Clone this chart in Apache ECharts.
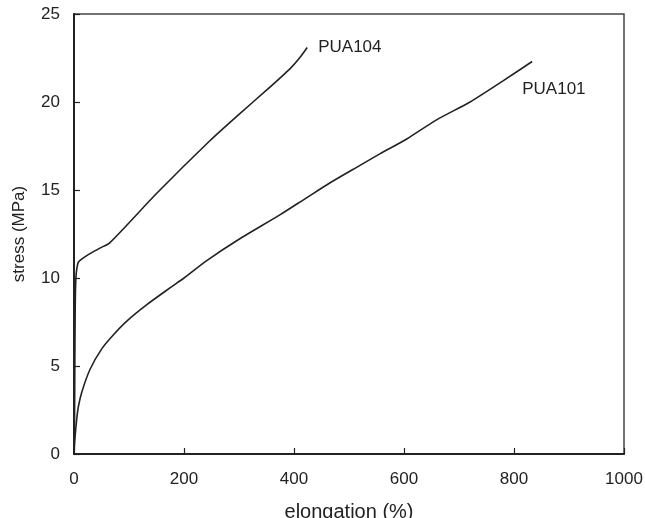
<!DOCTYPE html>
<html>
<head>
<meta charset="utf-8">
<script src="https://cdn.jsdelivr.net/npm/echarts@6/dist/echarts.min.js"></script>
<style>html,body{margin:0;padding:0;background:#fff}#c{width:645px;height:518px}</style>
</head>
<body>
<div id="c"></div>
<script>
var xTicks = [0, 200, 400, 600, 800, 1000];
var yTicks = [0, 5, 10, 15, 20, 25];
var pua104 = [[0,0],[1,2],[1.5,5],[2,7.5],[2.5,9],[3.5,10],[5,10.5],[8,10.9],[15,11.1],[30,11.4],[47,11.7],[65,12.0],[150,14.8],[247,17.8],[300,19.3],[351,20.7],[393,21.9],[410,22.5],[424,23.1]];
var pua101 = [[0,0],[2,1],[5,2],[8,2.7],[14,3.5],[29,4.8],[51,6.0],[71,6.75],[96,7.55],[133,8.5],[175,9.45],[200,10.0],[242,11.0],[300,12.2],[375,13.6],[420,14.5],[465,15.4],[520,16.4],[556,17.05],[605,17.9],[660,19.0],[720,20.0],[780,21.2],[833,22.3]];
var labels = [{name:'PUA104', coord:[444, 23.1]}, {name:'PUA101', coord:[815, 20.7]}];

var chart = echarts.init(document.getElementById('c'));
var font = 'Liberation Sans, Arial, sans-serif';
function lineSeries(name, data, lab) {
  return {
    name: name, type: 'line', data: data, showSymbol: false, smooth: 0.25,
    lineStyle: {color: '#222', width: 1.6},
    markPoint: {
      symbol: 'circle', symbolSize: 0, silent: true,
      label: {show: true, position: 'right', distance: 0, formatter: '{b}', color: '#222', fontSize: 17, fontFamily: font},
      data: [{name: lab.name, coord: lab.coord}]
    }
  };
}
chart.setOption({
  animation: false,
  grid: {left: 74, right: 21, top: 14, bottom: 64, show: true, borderColor: '#444', borderWidth: 1.5, outerBoundsMode: 'none', containLabel: false},
  xAxis: {
    type: 'value', min: 0, max: 1000, interval: 200,
    name: 'elongation (%)', nameLocation: 'middle', nameGap: 48,
    nameTextStyle: {fontSize: 20, color: '#222', fontFamily: font, verticalAlign: 'top'},
    axisLine: {lineStyle: {color: '#222', width: 2}},
    axisTick: {inside: true, length: 6, lineStyle: {color: '#222', width: 1.2}},
    axisLabel: {fontSize: 17, color: '#222', fontFamily: font, margin: 17,
      formatter: function(v){ return xTicks.indexOf(v) >= 0 ? String(v) : ''; }},
    splitLine: {show: false}
  },
  yAxis: {
    type: 'value', min: 0, max: 25, interval: 5,
    name: 'stress (MPa)', nameLocation: 'middle', nameGap: 46,
    nameTextStyle: {fontSize: 17, color: '#222', fontFamily: font},
    axisLine: {lineStyle: {color: '#222', width: 2}},
    axisTick: {inside: true, length: 6, lineStyle: {color: '#222', width: 1.2}},
    axisLabel: {fontSize: 17, color: '#222', fontFamily: font, margin: 14,
      formatter: function(v){ return yTicks.indexOf(v) >= 0 ? String(v) : ''; }},
    splitLine: {show: false}
  },
  series: [lineSeries('PUA104', pua104, labels[0]), lineSeries('PUA101', pua101, labels[1])]
});
</script>
</body>
</html>
